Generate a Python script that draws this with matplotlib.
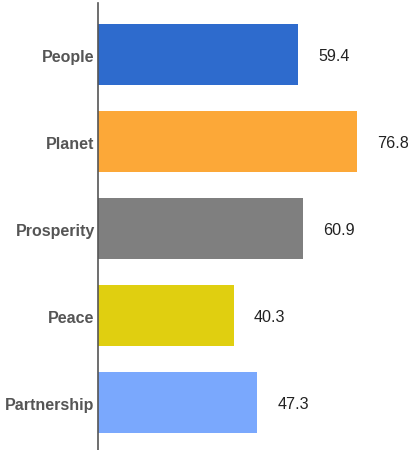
import matplotlib
matplotlib.use("Agg")
import matplotlib.pyplot as plt
from matplotlib.transforms import ScaledTranslation

categories = ["People", "Planet", "Prosperity", "Peace", "Partnership"]
values = [59.4, 76.8, 60.9, 40.3, 47.3]
colors = ["#2e6bcd", "#fca838", "#7f7f7f", "#e0cf10", "#7aa8fd"]

plt.rcParams['font.family'] = ['Liberation Sans', 'DejaVu Sans']

W, H = 408, 450
fig = plt.figure(figsize=(W / 100, H / 100), dpi=100)
left = 97.5 / W
ax = fig.add_axes([left, 0, 1 - left, 447 / H])

pos = list(range(len(categories)))
ax.barh(pos, values, height=0.695, color=colors)
ax.set_xlim(0, (W - 97.5) / 3.375)
ax.set_ylim(4.546, -0.589)

for p, v in zip(pos, values):
    ax.annotate(f"{v:.1f}", (v, p), xytext=(20, -2), textcoords="offset pixels",
                ha="left", va="center", fontsize=11.6, color="#222222")

ax.set_yticks(pos)
ax.set_yticklabels(categories, fontsize=11.5, fontweight="bold", color="#555555")
ax.tick_params(axis="y", length=0, pad=2)
shift = ScaledTranslation(0, -2 / 100, fig.dpi_scale_trans)
for lab in ax.get_yticklabels():
    lab.set_transform(lab.get_transform() + shift)
ax.set_xticks([])
for s in ["top", "right", "bottom"]:
    ax.spines[s].set_visible(False)
ax.spines["left"].set_color("#555555")
ax.spines["left"].set_linewidth(1.2)

fig.savefig("out.png", dpi=100)
